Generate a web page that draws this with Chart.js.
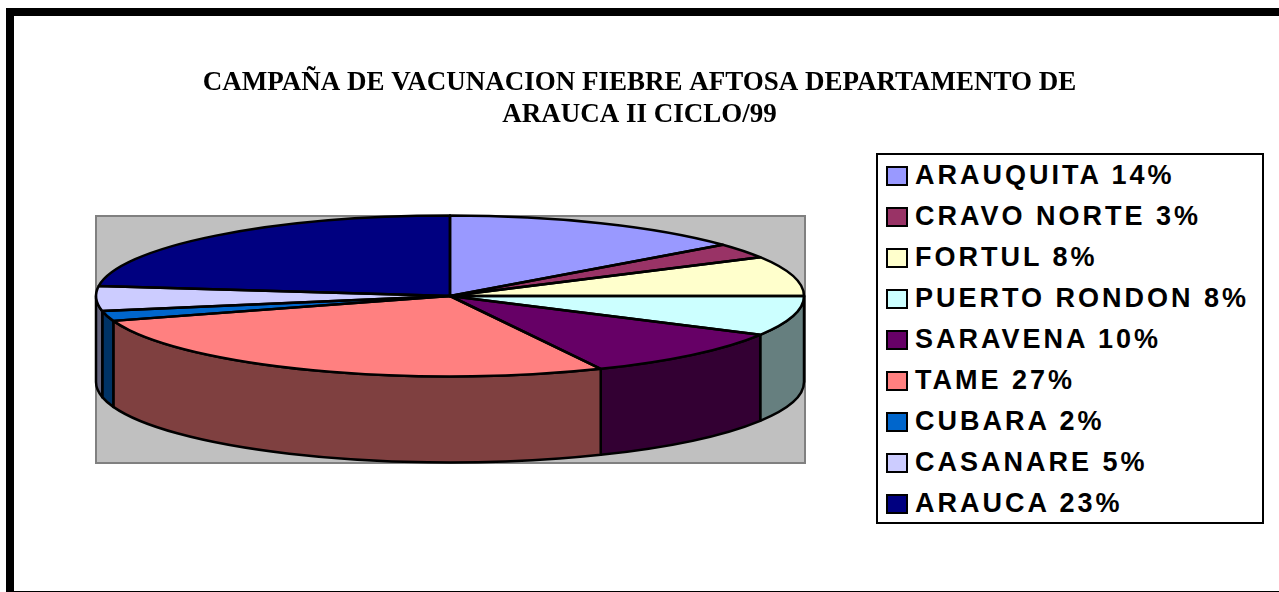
<!DOCTYPE html>
<html lang="es">
<head>
<meta charset="utf-8">
<title>Campaña de vacunacion fiebre aftosa</title>
<script src="https://cdn.jsdelivr.net/npm/chart.js@4/dist/chart.umd.min.js"></script>
<style>
    html, body { margin: 0; padding: 0; background: #fff; overflow: hidden; }
    #page { position: relative; width: 1279px; height: 592px; overflow: hidden; }
    #frame { position: absolute; left: 6px; top: 8px; width: 1300px; height: 575px; border: 8px solid #000; }
    #pie { position: absolute; left: 0; top: 0; }
    #legend {
        position: absolute; left: 876px; top: 153px; width: 384px; height: 367px;
        border: 2px solid #000; background: #fff;
        font: bold 27px "Liberation Sans", Arial, sans-serif; letter-spacing: 3px; color: #000;
    }
    #legend div { position: absolute; left: 8px; height: 30px; line-height: 30px; white-space: nowrap; }
    #legend i {
        display: inline-block; box-sizing: border-box; width: 22px; height: 20px;
        border: 2px solid #000; margin-right: 7px; vertical-align: -2px;
    }
</style>
</head>
<body>
<div id="page">
    <div id="frame"></div>
    <canvas id="pie" width="1279" height="592"></canvas>
    <div id="legend"></div>
</div>
<script>
// --- Chart data ---
const municipios = ['ARAUQUITA', 'CRAVO NORTE', 'FORTUL', 'PUERTO RONDON', 'SARAVENA', 'TAME', 'CUBARA', 'CASANARE', 'ARAUCA'];
const porcentajes = [14, 3, 8, 8, 10, 27, 2, 5, 23];
const colores = ['#9999FF', '#993366', '#FFFFCC', '#CCFFFF', '#660066', '#FF8080', '#0066CC', '#CCCCFF', '#000080'];
const tituloLineas = ['CAMPAÑA DE VACUNACION FIEBRE AFTOSA DEPARTAMENTO DE', 'ARAUCA II CICLO/99'];

// --- Shape of the tilted pie ---
const PIE_X = 450;
const PIE_Y = 296;
const RADIUS_X = 354;
const RADIUS_Y = 80.5;
const DEPTH = 86;
const LINE_WIDTH = 2.5;

// Side walls use the slice colour at half brightness
function darken(hex) {
    const half = i => Math.floor(parseInt(hex.substr(i, 2), 16) / 2);
    return `rgb(${half(1)}, ${half(3)}, ${half(5)})`;
}

// Chart.js has no 3D pie, so squash its arcs into an ellipse and add the walls here
const tiltedPie = {
    id: 'tiltedPie',
    beforeDatasetsDraw(chart) {
        const ctx = chart.ctx;
        const arcs = chart.getDatasetMeta(0).data;

        // grey plot area
        ctx.save();
        ctx.fillStyle = '#C0C0C0';
        ctx.strokeStyle = '#808080';
        ctx.lineWidth = 2;
        ctx.fillRect(PIE_X - RADIUS_X, 216, RADIUS_X * 2 + 1, 247);
        ctx.strokeRect(PIE_X - RADIUS_X, 216, RADIUS_X * 2 + 1, 247);

        // front walls, only the part of each slice between 0 and PI faces the viewer
        ctx.strokeStyle = '#000';
        ctx.lineWidth = LINE_WIDTH;
        ctx.lineJoin = 'round';
        arcs.forEach((arc, i) => {
            const from = Math.max(arc.startAngle, 0);
            const to = Math.min(arc.endAngle, Math.PI);
            if (to <= from) return;
            ctx.beginPath();
            ctx.ellipse(PIE_X, PIE_Y, RADIUS_X, RADIUS_Y, 0, from, to);
            ctx.ellipse(PIE_X, PIE_Y + DEPTH, RADIUS_X, RADIUS_Y, 0, to, from, true);
            ctx.closePath();
            ctx.fillStyle = darken(colores[i]);
            ctx.fill();
            ctx.stroke();
        });
        ctx.restore();

        // the library draws the top face inside this transform
        const first = arcs[0];
        ctx.save();
        ctx.translate(PIE_X, PIE_Y);
        ctx.scale(1, RADIUS_Y / RADIUS_X);
        ctx.translate(-first.x, -first.y);
    },
    afterDatasetsDraw(chart) {
        const ctx = chart.ctx;
        ctx.restore();

        // outlines go here so the squash does not thin them
        ctx.save();
        ctx.strokeStyle = '#000';
        ctx.lineWidth = LINE_WIDTH;
        ctx.lineJoin = 'round';
        chart.getDatasetMeta(0).data.forEach(arc => {
            ctx.beginPath();
            ctx.moveTo(PIE_X, PIE_Y);
            ctx.ellipse(PIE_X, PIE_Y, RADIUS_X, RADIUS_Y, 0, arc.startAngle, arc.endAngle);
            ctx.closePath();
            ctx.stroke();
        });
        ctx.restore();
    }
};

new Chart(document.getElementById('pie'), {
    type: 'pie',
    data: {
        labels: municipios,
        datasets: [{
            data: porcentajes,
            backgroundColor: colores,
            borderWidth: 0,
            clip: false
        }]
    },
    options: {
        responsive: false,
        animation: false,
        radius: RADIUS_X,
        plugins: {
            legend: { display: false },
            tooltip: { enabled: false },
            title: {
                display: true,
                text: tituloLineas,
                color: '#000',
                font: { family: "'Liberation Serif', 'Times New Roman', serif", size: 27, weight: 'bold', lineHeight: 1.15 },
                padding: { top: 68, bottom: 10 }
            }
        }
    },
    plugins: [tiltedPie]
});

// --- Legend box ---
const legendBox = document.getElementById('legend');
municipios.forEach((nombre, i) => {
    const row = document.createElement('div');
    row.style.top = (5 + i * 41) + 'px';
    const swatch = document.createElement('i');
    swatch.style.background = colores[i];
    row.appendChild(swatch);
    row.appendChild(document.createTextNode(`${nombre} ${porcentajes[i]}%`));
    legendBox.appendChild(row);
});
</script>
</body>
</html>
